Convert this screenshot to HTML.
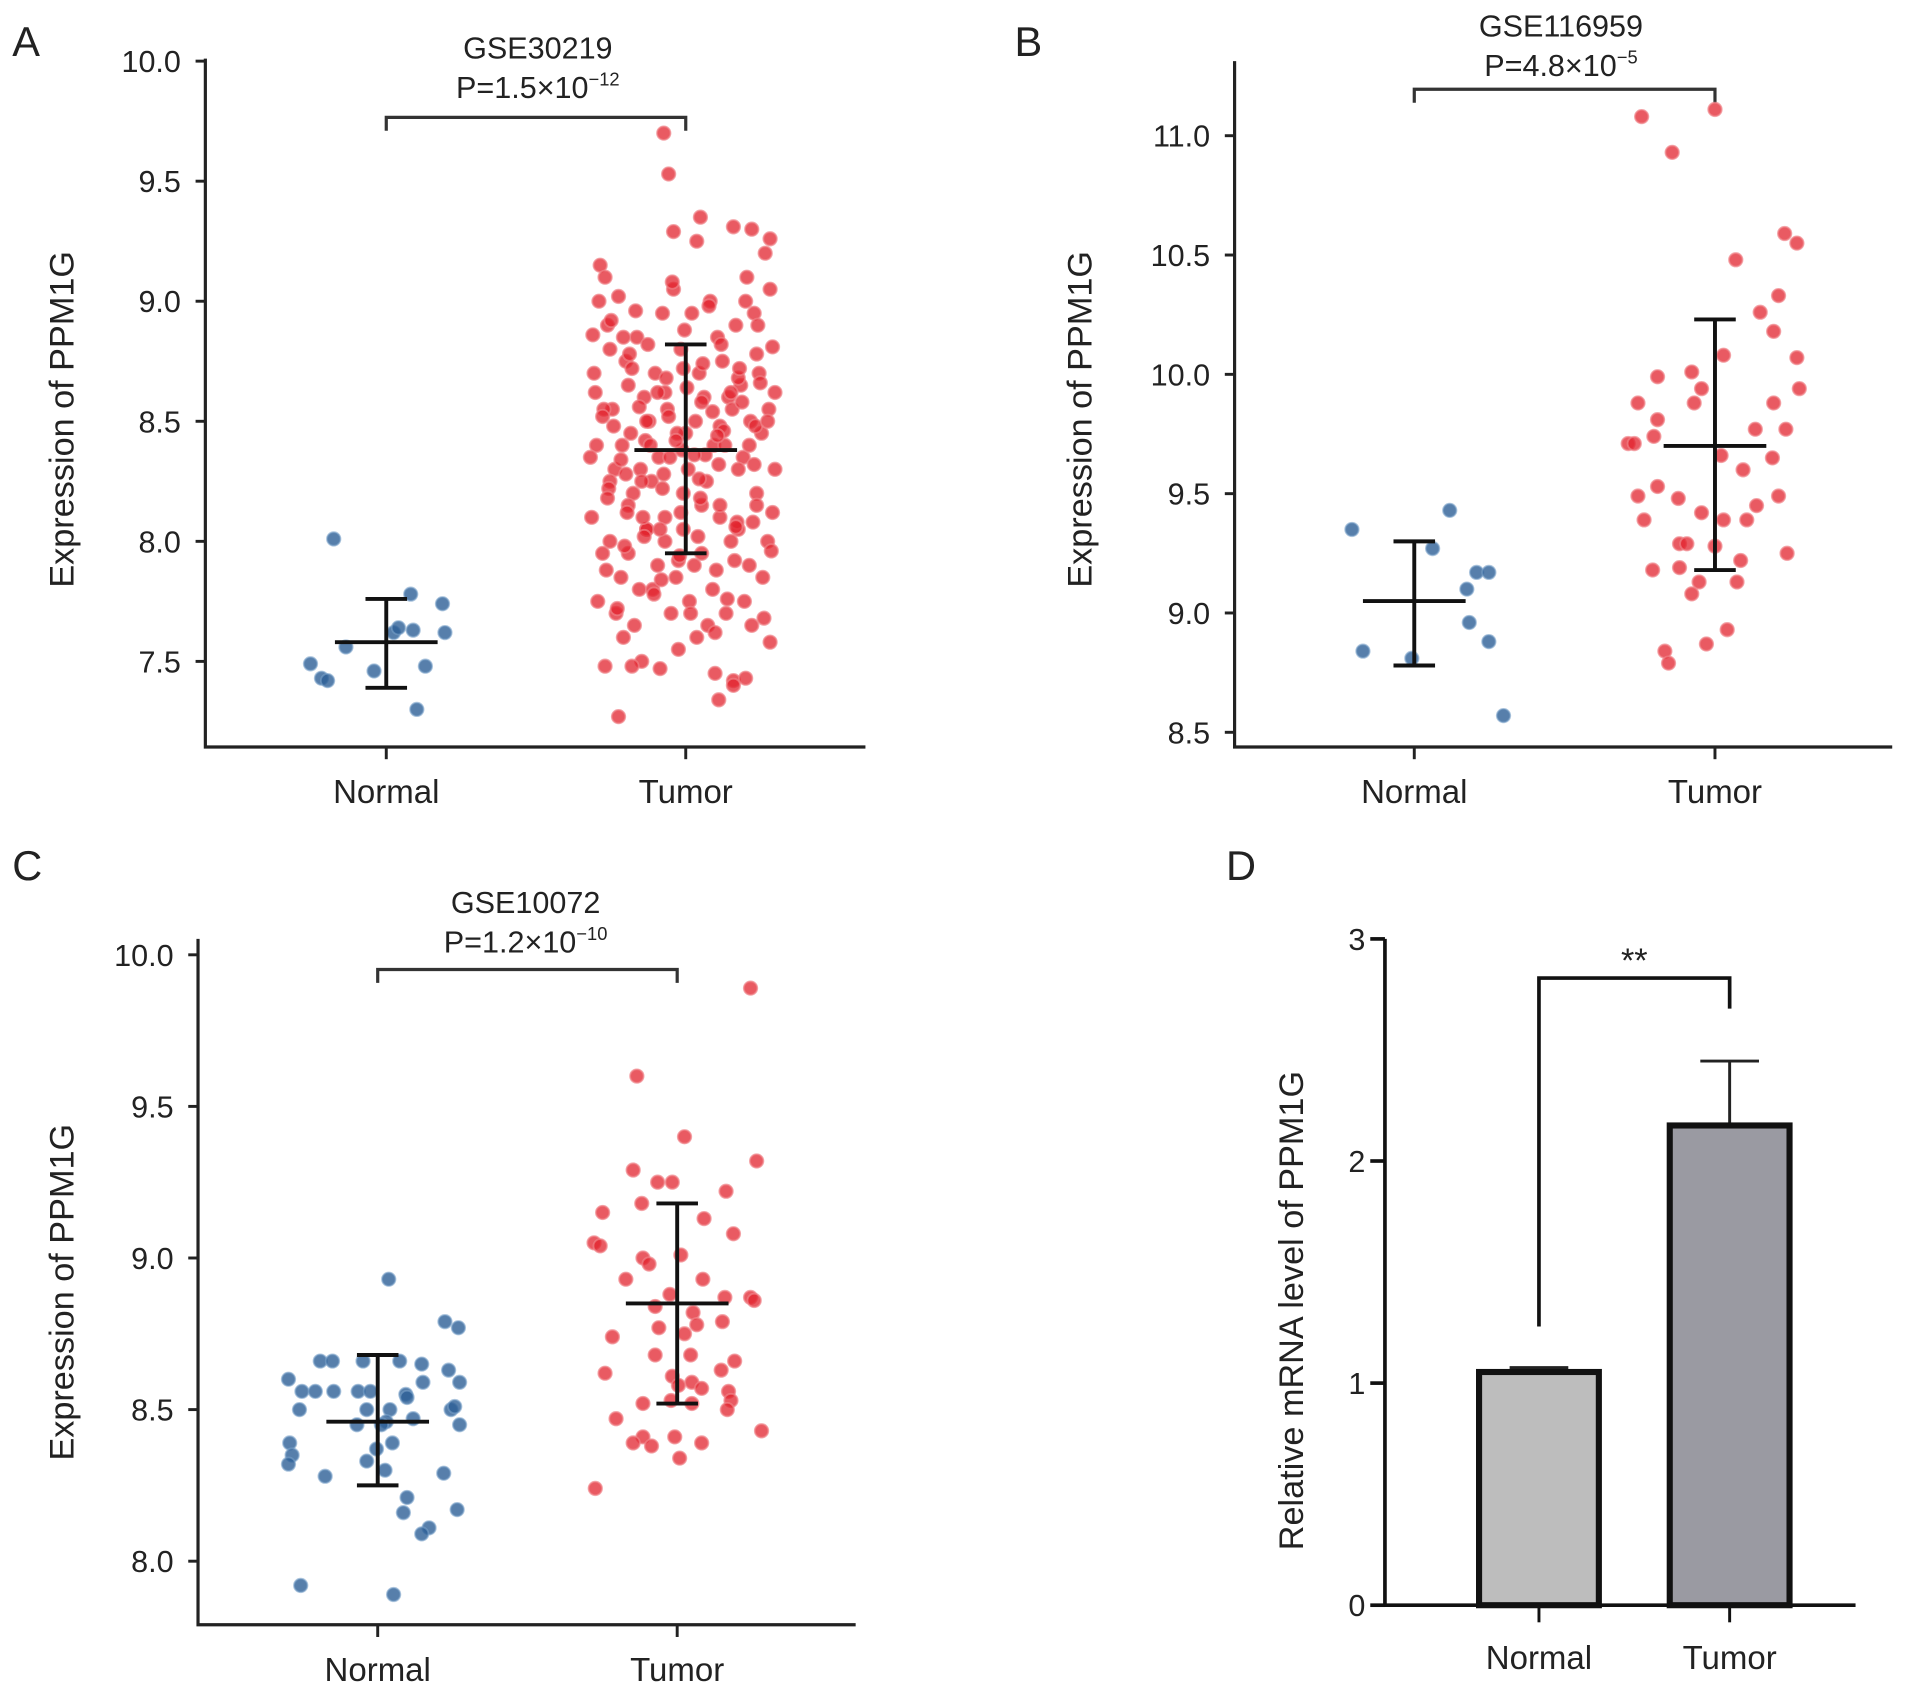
<!DOCTYPE html>
<html><head><meta charset="utf-8"><style>
html,body{margin:0;padding:0;background:#fff}
svg{display:block}
text{font-family:"Liberation Sans",Arial,sans-serif;fill:#222}
</style></head><body>
<svg id="fig" width="1913" height="1692" viewBox="0 0 1565 1384" preserveAspectRatio="none" xmlns="http://www.w3.org/2000/svg"></svg>
<script>
// ---- Panel A data ----
const aNormVals=[8.01,7.78,7.74,7.62,7.63,7.62,7.56,7.49,7.43,7.42,7.46,7.48,7.30,7.64];
const aNormJit=[-43,20,46,48,22,6,-33,-62,-53,-48,-10,32,25,10];
const aTumRows=[
[9.15,9.02,8.85,8.70,9.05,8.95,9.00,8.60,9.10,9.20],
[8.90,8.75,8.60,8.95,8.80,8.70,8.85,8.90,8.95,8.81],
[8.70,8.55,8.45,8.50,8.55,8.45,8.60,8.75,8.65,8.70],
[8.55,8.40,8.30,8.35,8.45,8.50,8.40,8.55,8.50,8.55],
[8.40,8.30,8.20,8.25,8.35,8.30,8.25,8.40,8.35,8.45],
[8.25,8.15,8.05,8.10,8.20,8.15,8.10,8.30,8.20,8.30],
[8.10,8.00,7.95,8.05,8.00,8.05,7.95,8.15,8.05,8.15],
[7.95,7.85,7.80,7.90,7.85,7.90,7.80,8.00,7.90,8.00],
[7.75,7.70,7.65,7.80,7.70,7.75,7.65,7.70,7.75,7.85],
[7.48,7.60,7.50,7.47,7.55,7.60,7.45,7.42,7.65,7.58],
[8.80,8.65,8.50,8.62,8.72,8.58,8.48,8.68,8.78,8.62],
[8.35,8.22,8.12,8.42,8.28,8.38,8.18,8.32,8.08,8.48],
[9.10,8.85,8.25,8.05,7.92,9.25,7.62,7.40,9.30,9.05],
[8.62,8.48,8.72,8.40,8.52,8.64,8.36,8.46,8.58,8.66],
[8.18,8.28,8.02,8.22,8.12,8.26,8.44,8.06,8.32,8.12],
[8.86,8.92,8.78,8.82,8.68,8.88,8.74,8.82,8.72,8.90],
[7.88,7.98,8.10,7.84,7.94,8.02,7.88,7.92,8.08,7.96],
[8.52,8.34,8.56,8.62,8.42,8.36,8.54,8.62,8.40,8.50],
[9.00,7.72,8.96,7.78,9.08,7.70,8.98,7.76,9.00,7.68]];
const aTumBaseJit=[-70,-55,-40,-25,-10,5,20,35,50,65];
const aTumRowShift=[0,6,-5,3,-3,8,-7,2,-2,4,8,-8,4,-4,6,-6,5,2,-1];
const aTumExtraVals=[9.70,9.53,9.29,9.35,9.31,9.26,7.27,7.34,7.43,7.48];
const aTumExtraJit=[-18,-14,-10,12,39,69,-55,27,49,-44];
const aStats={normal:[7.58,7.39,7.76],tumor:[8.38,7.95,8.82]};
const aTicks=[7.5,8.0,8.5,9.0,9.5,10.0];
// ---- Panel B data ----
const bNormVals=[9.35,9.43,9.27,9.17,9.17,9.10,8.96,8.88,8.84,8.81,8.57];
const bNormJit=[-51,29,15,51,61,43,45,61,-42,-2,73];
const bTumVals=[11.08,11.11,10.93,10.59,10.55,10.48,10.33,10.26,10.18,10.07,10.08,10.01,9.99,9.94,9.94,9.88,9.88,9.88,9.81,9.71,9.71,9.74,9.77,9.77,9.65,9.66,9.60,9.49,9.53,9.48,9.45,9.49,9.42,9.39,9.39,9.39,9.29,9.29,9.25,9.28,9.18,9.19,9.22,9.13,9.13,9.08,8.93,8.87,8.84,8.79];
const bTumJit=[-60,0,-35,57,67,17,52,37,48,67,7,-19,-47,-11,69,48,-63,-17,-47,-71,-66,-50,33,58,47,5,23,-63,-47,-30,34,52,-11,-58,7,26,-29,-23,59,0,-51,-29,21,-13,18,-19,10,-7,-41,-38];
const bStats={normal:[9.05,8.78,9.30],tumor:[9.70,9.18,10.23]};
const bTicks=[8.5,9.0,9.5,10.0,10.5,11.0];
// ---- Panel C data ----
const cNormVals=[8.93,8.79,8.77,8.60,8.66,8.66,8.66,8.66,8.65,8.63,8.56,8.56,8.56,8.56,8.56,8.55,8.59,8.59,8.50,8.50,8.50,8.54,8.50,8.51,8.45,8.46,8.47,8.45,8.39,8.35,8.37,8.32,8.33,8.30,8.28,8.29,8.21,8.16,8.17,8.11,8.09,7.92,7.89,8.45,8.39];
const cNormJit=[9,55,66,-73,-47,-37,-12,18,36,58,-62,-51,-36,-16,-6,23,37,67,-64,-9,10,24,60,63,-17,7,29,67,-72,-70,-1,-73,-9,6,-43,54,24,21,65,42,36,-63,13,3,12];
const cTumVals=[9.89,9.60,9.40,9.32,9.29,9.25,9.25,9.22,9.18,9.13,9.15,9.05,9.04,9.08,9.00,8.98,9.01,8.93,8.93,8.87,8.87,8.86,8.88,8.84,8.82,8.79,8.78,8.77,8.74,8.75,8.68,8.68,8.66,8.63,8.62,8.61,8.59,8.58,8.57,8.56,8.53,8.52,8.53,8.52,8.50,8.47,8.43,8.41,8.41,8.39,8.38,8.39,8.34,8.24];
const cTumJit=[60,-33,6,65,-36,-16,-4,40,-29,22,-61,-68,-63,46,-28,-23,3,21,-42,39,60,63,-6,-18,13,37,16,-15,-53,6,-18,11,47,36,-59,-4,12,1,20,42,-5,12,44,-28,41,-50,69,-28,-2,-36,-21,20,2,-67];
const cStats={normal:[8.46,8.25,8.68],tumor:[8.85,8.52,9.18]};
const cTicks=[8.0,8.5,9.0,9.5,10.0];
// ---- Panel D data ----
const dCats=["Normal","Tumor"];
const dMeans=[1.05,2.16];
const dErr=[0.02,0.29];
const dTicks=[0,1,2,3];

const svg=document.getElementById('fig');
const NS="http://www.w3.org/2000/svg";
function mk(tag,attrs,parent){const e=document.createElementNS(NS,tag);for(const k in attrs)e.setAttribute(k,attrs[k]);(parent||svg).appendChild(e);return e;}
function txt(s,x,y,size,anchor,parent,extra){const t=mk('text',Object.assign({x:x,y:y,'font-size':size,'text-anchor':anchor||'middle'},extra||{}),parent);t.textContent=s;return t;}

function scatterPanel(o){
  const g=mk('g',{});
  
  
  const y=v=>o.y0+(v-o.v0)*(o.y1-o.y0)/(o.v1-o.v0);
  const ax=mk('path',{d:`M${o.ax} ${o.top}V${o.base}H${o.right}`,stroke:'#222','stroke-width':2.6,fill:'none'},g);
  
  
  o.ticks.forEach(t=>{
    mk('line',{x1:o.ax-8,x2:o.ax,y1:y(t),y2:y(t),stroke:'#222','stroke-width':2.4},g);
    const l=txt(t.toFixed(1),o.ax-20,y(t)+9,25,'end',g);
    
    
  });
  [[o.nx,'Normal'],[o.tx,'Tumor']].forEach(([x,s])=>{
    mk('line',{x1:x,x2:x,y1:o.base,y2:o.base+10,stroke:'#222','stroke-width':2.4},g);
    const l=txt(s,x,o.base+46,27,'middle',g);
    
    
  });
  const yl=txt('Expression of PPM1G',0,0,28,'middle',g,{transform:`translate(${o.ylx},${o.yly}) rotate(-90)`});
  
  
  const pl=txt(o.letter,o.lx,o.ly,34,'start',g);
  
  
  const t1=txt(o.title,o.titleX,o.titleY,25,'middle',g);
  
  
  const t2=mk('text',{x:o.titleX,y:o.titleY+32,'font-size':25,'text-anchor':'middle'},g);
  
  
  t2.innerHTML=o.p+'<tspan dy="-10" font-size="15">'+o.exp+'</tspan>';
  const br=mk('path',{d:`M${o.nx} ${o.brY+11}V${o.brY}H${o.tx}V${o.brY+11}`,stroke:'#333','stroke-width':2.6,fill:'none'},g);
  
  
  o.normal.forEach(([v,j])=>{
    const c=mk('circle',{cx:o.nx+j,cy:y(v),r:5.5,fill:'rgba(45,95,150,0.8)',stroke:'rgba(120,160,200,0.6)','stroke-width':1.5},g);
    
    
  });
  o.tumor.forEach(([v,j])=>{
    const c=mk('circle',{cx:o.tx+j,cy:y(v),r:5.5,fill:'rgba(225,35,45,0.75)',stroke:'rgba(240,130,135,0.7)','stroke-width':1.5},g);
    
    
  });
  [[o.nx,o.stats.normal,'normal-error-bar'],[o.tx,o.stats.tumor,'tumor-error-bar']].forEach(([x,s,n])=>{
    const e=mk('path',{d:`M${x-42} ${y(s[0])}H${x+42}M${x} ${y(s[1])}V${y(s[2])}M${x-17} ${y(s[1])}H${x+17}M${x-17} ${y(s[2])}H${x+17}`,stroke:'#111','stroke-width':3.2,fill:'none'},g);
    
    
  });
}

const aTum=[];
aTumRows.forEach((row,r)=>row.forEach((v,i)=>aTum.push([v,aTumBaseJit[i]+aTumRowShift[r]])));
aTumExtraVals.forEach((v,i)=>aTum.push([v,aTumExtraJit[i]]));

scatterPanel({name:'panel-a',letter:'A',lx:10,ly:46,ax:168,top:48,base:611,right:708,y0:50,v0:10,y1:541,v1:7.5,
  ticks:aTicks,nx:316,tx:561,ylx:60,yly:343,title:'GSE30219',titleX:440,titleY:48,p:'P=1.5×10',exp:'−12',brY:96,
  normal:aNormVals.map((v,i)=>[v,aNormJit[i]]),tumor:aTum,stats:aStats});
scatterPanel({name:'panel-b',letter:'B',lx:830,ly:46,ax:1010,top:50,base:611,right:1548,y0:111,v0:11,y1:599,v1:8.5,
  ticks:bTicks,nx:1157,tx:1403,ylx:893,yly:343,title:'GSE116959',titleX:1277,titleY:30,p:'P=4.8×10',exp:'−5',brY:73,
  normal:bNormVals.map((v,i)=>[v,bNormJit[i]]),tumor:bTumVals.map((v,i)=>[v,bTumJit[i]]),stats:bStats});
scatterPanel({name:'panel-c',letter:'C',lx:10,ly:720,ax:162,top:768,base:1329,right:700,y0:781,v0:10,y1:1277,v1:8,
  ticks:cTicks,nx:309,tx:554,ylx:60,yly:1057,title:'GSE10072',titleX:430,titleY:747,p:'P=1.2×10',exp:'−10',brY:793,
  normal:cNormVals.map((v,i)=>[v,cNormJit[i]]),tumor:cTumVals.map((v,i)=>[v,cTumJit[i]]),stats:cStats});

(function(){
  const g=mk('g',{});
  
  
  const ax=1133,base=1313,top=768,right=1518;
  const y=v=>base-(v)*(base-top)/3;
  const xs=[1259,1415],bw=98;
  const pl=txt('D',1003,720,34,'start',g);
  
  
  const yl=txt('Relative mRNA level of PPM1G',0,0,28,'middle',g,{transform:'translate(1066,1072) rotate(-90)'});
  
  
  const fills=['#bdbdbd','#9a9aa2'];
  dMeans.forEach((m,i)=>{
    const e=mk('path',{d:`M${xs[i]} ${y(m)}V${y(m+dErr[i])}M${xs[i]-24} ${y(m+dErr[i])}H${xs[i]+24}`,stroke:'#222','stroke-width':2.4,fill:'none'},g);
    
    
    const r=mk('rect',{x:xs[i]-bw/2,y:y(m),width:bw,height:base-y(m),fill:fills[i],stroke:'#111','stroke-width':5},g);
    
    
    mk('line',{x1:xs[i],x2:xs[i],y1:base,y2:base+14,stroke:'#111','stroke-width':2.4},g);
    const l=txt(dCats[i],xs[i],base+52,27,'middle',g);
    
    
  });
  const a=mk('path',{d:`M${ax} ${top}V${base}H${right}`,stroke:'#111','stroke-width':3,fill:'none'},g);
  
  
  dTicks.forEach(t=>{
    mk('line',{x1:ax-12,x2:ax,y1:y(t),y2:y(t),stroke:'#111','stroke-width':3},g);
    const l=txt(String(t),ax-16,y(t)+9,25,'end',g);
    
    
  });
  const br=mk('path',{d:`M${xs[0]} 1085V800H${xs[1]}V825`,stroke:'#111','stroke-width':3,fill:'none'},g);
  
  
  const s=txt('**',1337,795,28,'middle',g);
  
  
})();
</script>
</body></html>
